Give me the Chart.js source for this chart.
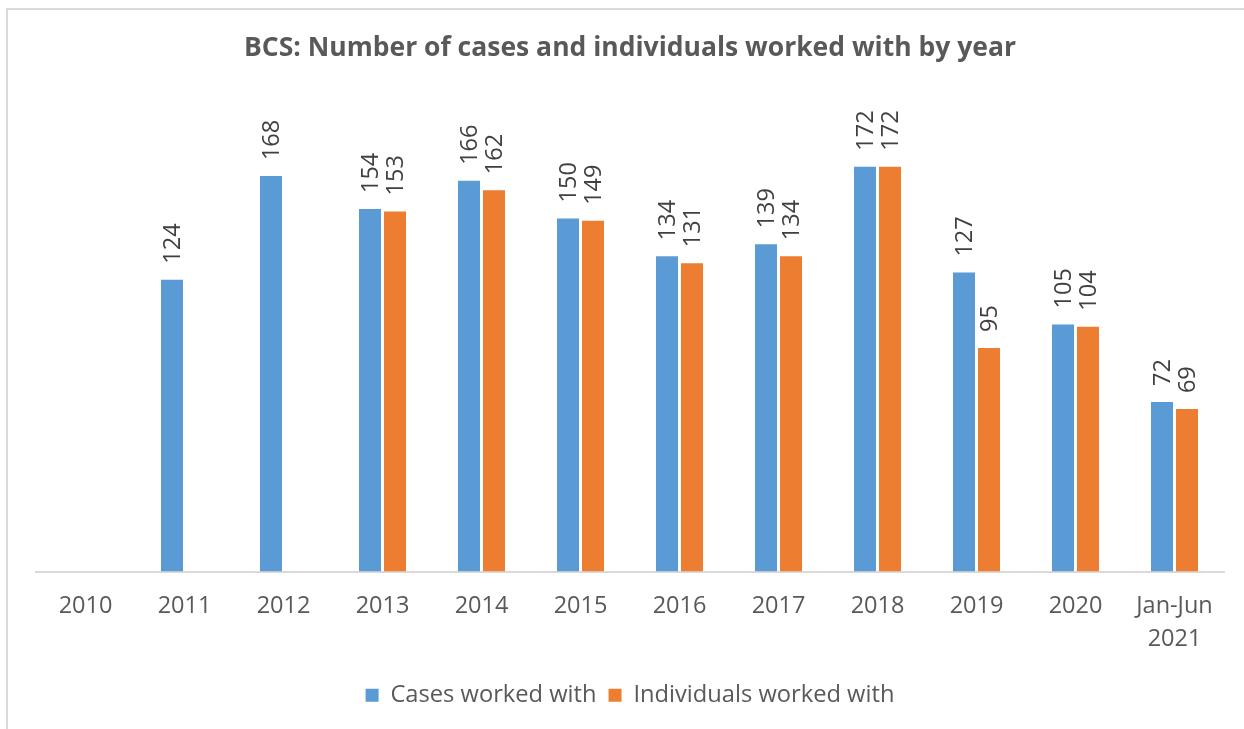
<!DOCTYPE html>
<html>
<head>
<meta charset="utf-8">
<script src="https://cdn.jsdelivr.net/npm/chart.js@4/dist/chart.umd.min.js"></script>
<style>
  body { margin: 0; background: #fff; }
  .frame { position: absolute; left: 6px; top: 8px; width: 1300px; height: 800px;
           border-left: 2px solid #d9d9d9; border-top: 2px solid #d9d9d9; }
  .wrap { position: absolute; left: 0; top: 0; width: 1244px; height: 729px; }
</style>
</head>
<body>
<div class="frame"></div>
<div class="wrap"><canvas id="myChart"></canvas></div>
<script>
var years = ['2010', '2011', '2012', '2013', '2014', '2015', '2016', '2017', '2018', '2019', '2020', ['Jan-Jun', '2021']]
var cases = [null, 124, 168, 154, 166, 150, 134, 139, 172, 127, 105, 72]
var individuals = [null, null, null, 153, 162, 149, 131, 134, 172, 95, 104, 69]

var yMax = 200

// value labels written upright above each bar
var barLabels = {
    id: 'barLabels',
    afterDatasetsDraw(chart) {
        var ctx = chart.ctx
        ctx.save()
        ctx.font = '23.5px "Open Sans"'
        ctx.fillStyle = '#404040'
        ctx.textAlign = 'left'
        ctx.textBaseline = 'middle'
        chart.data.datasets.forEach(function (ds, i) {
            var meta = chart.getDatasetMeta(i)
            meta.data.forEach(function (bar, j) {
                var v = ds.data[j]
                if (v === null) return
                ctx.save()
                ctx.translate(bar.x + 1, bar.y - 16)
                ctx.rotate(-Math.PI / 2)
                ctx.fillText(String(v), 0, 0)
                ctx.restore()
            })
        })
        ctx.restore()
    }
}

var ctx = document.getElementById('myChart').getContext('2d');
var myChart = new Chart(ctx, {
    type: 'bar',
    data: {
        labels: years,
        datasets: [{
            label: 'Cases worked with',
            data: cases,
            backgroundColor: '#5B9BD5',
            categoryPercentage: 0.505,
            barPercentage: 0.88
        }, {
            label: 'Individuals worked with',
            data: individuals,
            backgroundColor: '#ED7D31',
            categoryPercentage: 0.505,
            barPercentage: 0.88
        }]
    },
    options: {
        responsive: true,
        maintainAspectRatio: false,
        animation: false,
        layout: {
            padding: { left: 36, right: 20, top: 0, bottom: 12 }
        },
        plugins: {
            title: {
                display: true,
                text: 'BCS: Number of cases and individuals worked with by year',
                color: '#595959',
                font: { family: 'Open Sans', size: 26.5, weight: 'bold', lineHeight: 1.2 },
                padding: { top: 33, bottom: 36 }
            },
            legend: {
                position: 'bottom',
                labels: {
                    color: '#595959',
                    font: { family: 'Open Sans', size: 23.7 },
                    boxWidth: 13,
                    boxHeight: 13,
                    padding: 12
                }
            },
            tooltip: { enabled: false }
        },
        scales: {
            x: {
                grid: { display: false },
                border: { display: true, color: '#d9d9d9', width: 2 },
                ticks: {
                    color: '#595959',
                    font: { family: 'Open Sans', size: 23.5, lineHeight: 1.4 },
                    padding: 10,
                    maxRotation: 0,
                    autoSkip: false
                },
                afterFit: function (scale) { scale.height += 6 }
            },
            y: {
                display: false,
                min: 0,
                max: yMax
            }
        }
    },
    plugins: [barLabels]
});
</script>
</body>
</html>
